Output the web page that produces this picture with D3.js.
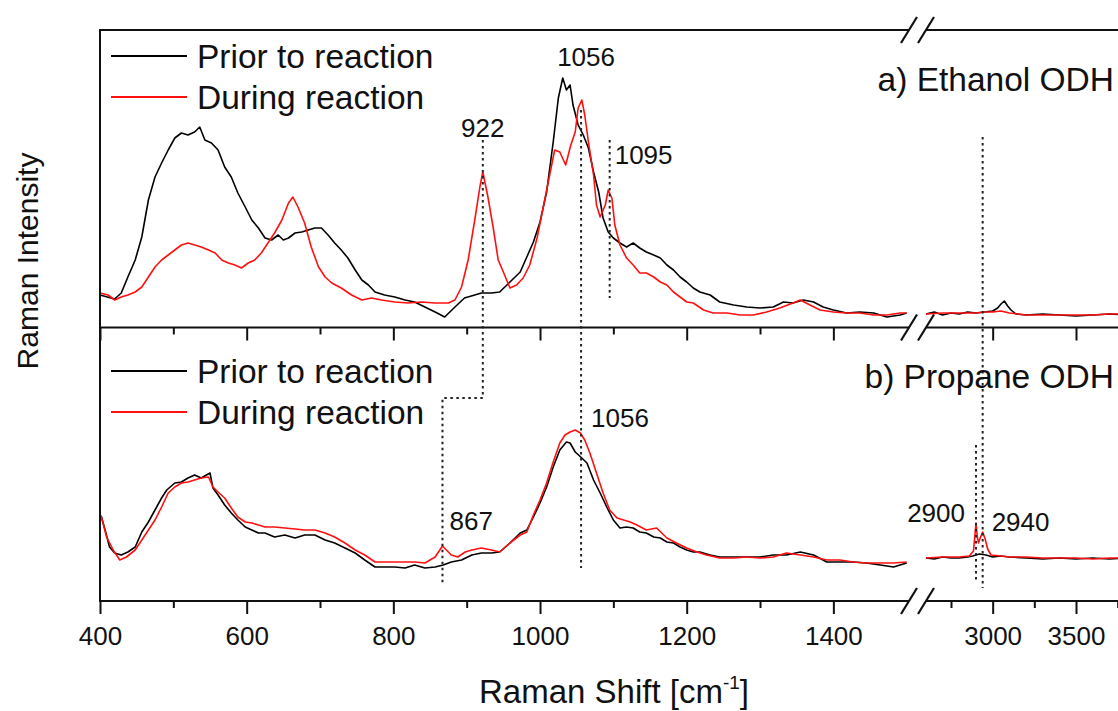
<!DOCTYPE html>
<html><head><meta charset="utf-8">
<script src="https://cdn.jsdelivr.net/npm/d3@7"></script>
<style>
html,body{margin:0;padding:0;background:#fff;}
text{font-family:"Liberation Sans", Arial, sans-serif; fill:#111;}
</style></head>
<body>
<script>
// ---------- DATA (wavenumber cm^-1, relative intensity) ----------
const topPrior = [[400,33],[410,31],[420,29],[429,35],[438,51],[448,68],[457,91],[466,128],[475,151],[484,165],[493,178],[502,190],[511,195],[520,193],[529,196],[536,201],[543,188],[552,185],[561,178],[570,161],[579,151],[588,135],[598,121],[607,108],[616,100],[625,90],[634,88],[643,93],[650,88],[657,90],[666,95],[675,96],[684,98],[693,100],[702,100],[711,93],[720,85],[729,78],[738,70],[748,58],[757,48],[766,43],[775,36],[788,33],[802,31],[816,28],[829,26],[843,21],[857,16],[870,11],[884,21],[897,30],[911,33],[920,35],[934,35],[945,36],[959,46],[973,56],[982,71],[991,86],[1000,106],[1009,136],[1018,186],[1025,230],[1031,250],[1036,238],[1041,243],[1045,223],[1052,203],[1059,193],[1066,180],[1073,156],[1080,136],[1086,110],[1093,96],[1100,90],[1109,85],[1118,81],[1127,85],[1136,80],[1145,76],[1155,73],[1164,70],[1173,63],[1182,58],[1191,51],[1200,46],[1209,40],[1218,36],[1232,33],[1245,26],[1264,23],[1282,21],[1300,20],[1318,21],[1332,26],[1345,25],[1359,28],[1373,26],[1386,21],[1400,18],[1418,15],[1436,16],[1455,15],[1473,11],[1491,13],[1500,15]];
const topPriorHigh = [[2600,14],[2650,16],[2700,13],[2750,15],[2800,14],[2850,16],[2900,15],[2950,16],[3000,17],[3030,20],[3050,24],[3070,27],[3090,22],[3110,18],[3140,14],[3200,13],[3300,14],[3400,13],[3500,12],[3600,13],[3700,14],[3800,13]];
const topDuring = [[400,35],[411,33],[420,28],[429,31],[438,33],[448,36],[457,41],[466,51],[475,61],[484,68],[493,73],[502,78],[511,83],[520,85],[529,83],[538,81],[548,78],[557,75],[566,68],[575,65],[584,63],[593,60],[602,65],[611,68],[620,75],[629,85],[638,95],[648,108],[657,125],[663,131],[670,121],[679,105],[688,81],[698,61],[707,51],[716,45],[729,40],[743,33],[757,28],[770,30],[784,28],[802,26],[820,25],[838,26],[857,25],[875,25],[884,28],[893,41],[902,68],[911,108],[918,141],[922,156],[929,131],[936,101],[943,68],[950,56],[959,40],[968,43],[977,50],[986,63],[996,90],[1005,123],[1014,156],[1020,178],[1027,176],[1035,163],[1042,183],[1048,196],[1052,220],[1057,228],[1061,213],[1066,186],[1073,153],[1077,123],[1082,111],[1089,123],[1093,138],[1098,130],[1102,103],[1109,83],[1118,70],[1127,63],[1136,55],[1145,55],[1155,51],[1164,46],[1173,43],[1182,36],[1191,31],[1200,26],[1209,25],[1223,18],[1236,15],[1255,15],[1273,13],[1291,13],[1309,16],[1327,20],[1345,25],[1355,28],[1368,23],[1382,18],[1400,16],[1418,15],[1436,15],[1455,13],[1473,13],[1491,15],[1500,15]];
const topDuringHigh = [[2600,14],[2700,15],[2800,15],[2900,15],[2950,16],[3000,16],[3050,17],[3100,15],[3200,13],[3300,13],[3400,13],[3500,13],[3600,13],[3700,14],[3800,14]];
const botPrior = [[400,86],[402,84],[407,71],[413,54],[420,48],[429,46],[438,49],[448,54],[457,69],[466,79],[475,91],[484,103],[491,111],[502,118],[511,119],[520,123],[529,126],[538,123],[550,128],[554,113],[561,106],[570,96],[579,88],[588,81],[598,74],[607,71],[616,68],[625,68],[638,64],[652,66],[666,63],[679,66],[693,66],[707,61],[720,58],[734,53],[748,48],[761,41],[775,34],[788,34],[802,34],[816,33],[829,36],[843,33],[857,34],[868,36],[879,39],[893,41],[907,46],[920,48],[934,48],[945,49],[959,58],[973,68],[982,71],[991,84],[1000,98],[1009,114],[1018,134],[1027,151],[1036,159],[1041,158],[1048,149],[1057,143],[1064,138],[1073,121],[1082,108],[1091,94],[1100,81],[1109,73],[1118,74],[1127,73],[1136,69],[1145,68],[1155,64],[1164,63],[1173,59],[1182,58],[1191,54],[1200,51],[1209,49],[1218,49],[1232,46],[1245,44],[1264,44],[1282,44],[1300,44],[1318,46],[1336,46],[1355,49],[1373,46],[1391,39],[1409,39],[1427,39],[1445,38],[1464,36],[1482,34],[1500,38]];
const botPriorHigh = [[2600,43],[2650,42],[2700,44],[2750,43],[2800,43],[2850,44],[2880,45],[2920,47],[2960,46],[3000,44],[3050,45],[3100,44],[3200,43],[3300,42],[3400,43],[3500,42],[3600,43],[3700,42],[3800,43]];
const botDuring = [[400,86],[402,84],[409,64],[418,51],[427,41],[436,44],[448,51],[457,61],[466,71],[475,81],[484,94],[493,108],[502,114],[511,118],[520,119],[529,121],[538,123],[548,124],[554,114],[561,109],[570,103],[579,93],[588,84],[598,79],[607,78],[616,76],[625,74],[638,74],[652,73],[666,72],[679,71],[693,71],[707,68],[720,64],[734,58],[748,51],[761,46],[775,39],[788,39],[802,39],[816,39],[829,39],[843,38],[857,44],[867,55],[879,46],[888,44],[898,49],[907,51],[920,53],[934,51],[945,49],[959,58],[973,66],[982,69],[991,86],[1000,101],[1009,118],[1018,139],[1027,158],[1034,166],[1041,169],[1048,171],[1055,168],[1061,161],[1068,148],[1077,128],[1086,108],[1095,91],[1105,83],[1114,81],[1123,79],[1132,76],[1145,71],[1159,73],[1173,63],[1186,58],[1200,53],[1214,49],[1227,46],[1245,43],[1264,43],[1282,44],[1300,43],[1318,44],[1336,48],[1355,46],[1373,44],[1391,41],[1409,41],[1427,39],[1445,38],[1464,38],[1482,38],[1500,39]];
const botDuringHigh = [[2600,43],[2700,44],[2800,44],[2860,45],[2885,50],[2893,65],[2900,78],[2908,64],[2915,58],[2925,63],[2940,69],[2955,62],[2970,52],[2990,46],[3050,45],[3100,44],[3200,44],[3300,43],[3400,43],[3500,43],[3600,42],[3700,43],[3800,43]];

const majorTicksLow = [400,600,800,1000,1200,1400];
const minorTicksLow = [500,700,900,1100,1300];
const majorTicksHigh = [3000,3500];
const minorTicksHigh = [2750,3250,3750];
const seriesNames = ["Prior to reaction","During reaction"];
const seriesColors = ["#000000","#ff1010"];
const panelTitles = ["a) Ethanol ODH","b) Propane ODH"];

// ---------- LAYOUT ----------
const W = 1118, H = 711;
const L = 100, TOP = 30, MID = 327.5, BOT = 601;
const svg = d3.select("body").append("svg").attr("width", W).attr("height", H);
svg.append("rect").attr("width", W).attr("height", H).attr("fill", "#fff");

const x1 = d3.scaleLinear().domain([400,1500]).range([L, 906.7]);
const x2 = d3.scaleLinear().domain([2600,3800]).range([926, 1126]);
const xp = v => v <= 1500 ? x1(v) : x2(v);
const yTop = d3.scaleLinear().domain([0,298]).range([328,30]);
const yBot = d3.scaleLinear().domain([0,273]).range([601,328]);

// ---------- SPECTRA ----------
function drawSeries(data, xs, ys, color){
  const line = d3.line().x(d => xs(d[0])).y(d => ys(d[1]));
  svg.append("path").datum(data).attr("d", line)
    .attr("fill","none").attr("stroke",color).attr("stroke-width",1.6).attr("stroke-linejoin","round");
}
drawSeries(topPrior, x1, yTop, seriesColors[0]);
drawSeries(topPriorHigh, x2, yTop, seriesColors[0]);
drawSeries(topDuring, x1, yTop, seriesColors[1]);
drawSeries(topDuringHigh, x2, yTop, seriesColors[1]);
drawSeries(botPrior, x1, yBot, seriesColors[0]);
drawSeries(botPriorHigh, x2, yBot, seriesColors[0]);
drawSeries(botDuring, x1, yBot, seriesColors[1]);
drawSeries(botDuringHigh, x2, yBot, seriesColors[1]);

// ---------- FRAME, AXES, BREAKS ----------
const frame = svg.append("g").attr("stroke","#111").attr("stroke-width",2).attr("fill","none");
const gapA = 909, gapB = 926;
[TOP, MID, BOT].forEach(y => {
  frame.append("line").attr("x1",L).attr("x2",gapA).attr("y1",y).attr("y2",y);
  frame.append("line").attr("x1",gapB).attr("x2",W+10).attr("y1",y).attr("y2",y);
  [gapA, gapB].forEach(cx => {
    frame.append("line").attr("x1",cx-8).attr("y1",y+13).attr("x2",cx+8).attr("y2",y-13).attr("stroke-width",2.2);
  });
});
frame.append("line").attr("x1",L).attr("x2",L).attr("y1",TOP-1).attr("y2",BOT+1);

function ticks(scale, vals, y, size, labels){
  const ax = d3.axisBottom(scale).tickValues(vals).tickSize(size).tickPadding(13)
    .tickFormat(labels ? d3.format("d") : "");
  const g = svg.append("g").attr("transform",`translate(0,${y})`).call(ax);
  g.select(".domain").remove();
  g.selectAll(".tick line").attr("stroke","#111").attr("stroke-width",2);
  g.selectAll(".tick text").attr("font-size",26).attr("font-family","Liberation Sans, Arial, sans-serif").attr("fill","#111");
}
ticks(x1, majorTicksLow, BOT, 13, true);
ticks(x1, minorTicksLow, BOT, 7, false);
ticks(x2, majorTicksHigh, BOT, 13, true);
ticks(x2, minorTicksHigh, BOT, 7, false);
ticks(x1, majorTicksLow, MID, 13, false);
ticks(x1, minorTicksLow, MID, 7, false);
ticks(x2, majorTicksHigh, MID, 13, false);

// ---------- DOTTED PEAK MARKERS ----------
const dot = {stroke:"#222", width:2, dash:"2.5,3.5"};
function dotted(pts){
  svg.append("path").attr("d", d3.line()(pts)).attr("fill","none")
    .attr("stroke",dot.stroke).attr("stroke-width",dot.width).attr("stroke-dasharray",dot.dash);
}
dotted([[xp(922), yTop(188)], [xp(922), yBot(203)], [xp(867), yBot(203)], [xp(867), yBot(18)]]);
dotted([[xp(1056), yTop(218)], [xp(1056), yBot(33)]]);
dotted([[xp(1095), yTop(188)], [xp(1095), yTop(30)]]);
dotted([[xp(2940), yTop(191)], [xp(2940), yBot(13)]]);
dotted([[xp(2900), yBot(156)], [xp(2900), yBot(19)]]);

// ---------- PEAK LABELS ----------
function label(txt, x, y, anchor, size){
  svg.append("text").attr("x",x).attr("y",y).attr("text-anchor",anchor||"start")
    .attr("font-size",size||26).text(txt);
}
label("922", xp(922), 137, "middle");
label("1056", xp(1056)+5, 66, "middle");
label("1095", xp(1095)+5, 164, "start");
label("1056", xp(1056)+10, 427, "start");
label("867", xp(867)+7, 530, "start");
label("2900", xp(2900)-11, 522, "end");
label("2940", xp(2940)+9, 531, "start");

// ---------- PANEL TITLES ----------
label(panelTitles[0], 1114, 91, "end", 33.5);
label(panelTitles[1], 1114, 388, "end", 33.5);

// ---------- LEGENDS ----------
function legend(y0){
  seriesNames.forEach((n,i) => {
    const y = y0 + i*41;
    svg.append("line").attr("x1",111).attr("x2",187).attr("y1",y).attr("y2",y)
      .attr("stroke",seriesColors[i]).attr("stroke-width",1.8);
    label(n, 197, y+12, "start", 33.5);
  });
}
legend(56);
legend(371);

// ---------- AXIS TITLES ----------
svg.append("text").attr("transform","translate(38,261) rotate(-90)").attr("text-anchor","middle")
  .attr("font-size",30).text("Raman Intensity");
const xt = svg.append("text").attr("x",614).attr("y",703).attr("text-anchor","middle").attr("font-size",33);
xt.append("tspan").text("Raman Shift [cm");
xt.append("tspan").attr("font-size",19).attr("dy",-14).text("-1");
xt.append("tspan").attr("dy",14).text("]");
</script>
</body></html>
